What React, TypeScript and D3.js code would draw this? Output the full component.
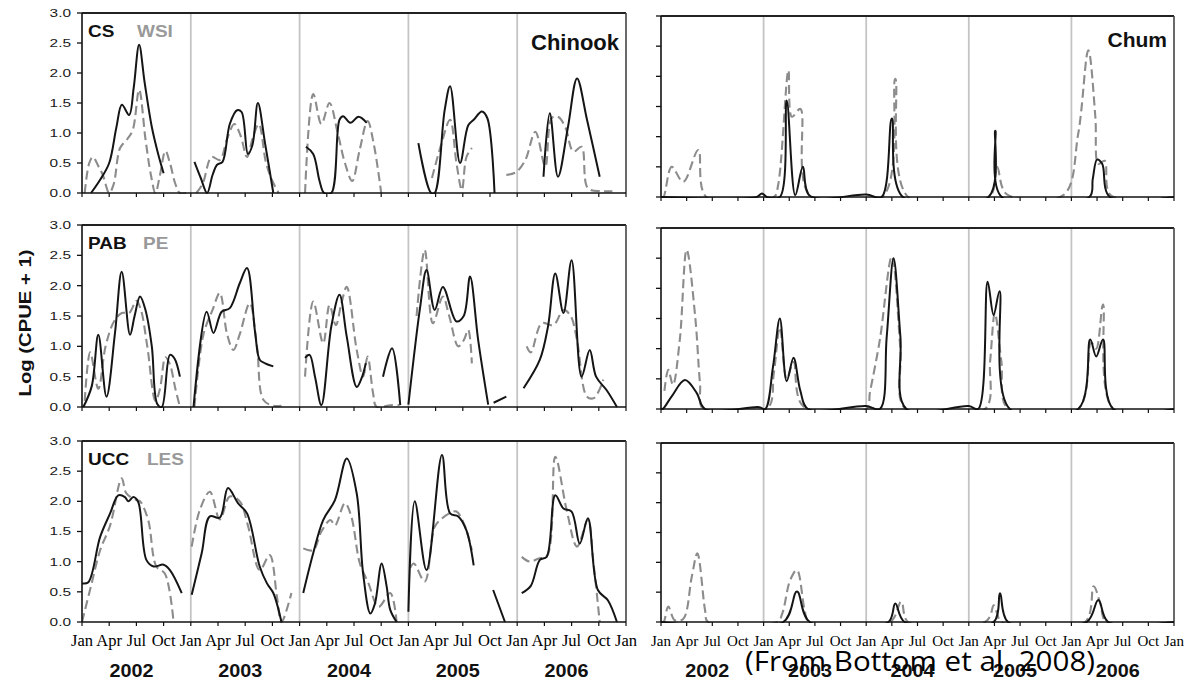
import React from "react";
import * as d3 from "d3";

// [month since Jan 2002, log(CPUE+1)], null = gap in the record
type Pt = [number, number] | null;

const years = [2002, 2003, 2004, 2005, 2006];
const monthNames = ["Jan", "Apr", "Jul", "Oct"];
const yTicks = [0, 0.5, 1, 1.5, 2, 2.5, 3];

// Chinook
const csChinook: Pt[] = [
  [1, 0], [2, 0.22], [3, 0.5], [3.8, 1.1], [4.4, 1.47], [5.2, 1.3], [5.7, 1.75], [6.3, 2.47], [6.9, 1.85], [7.7, 1.1], [8.4, 0.65], [9, 0.33], null,
  [12.4, 0.52], [13.1, 0.25], [13.8, 0], [14.4, 0.3], [14.9, 0.47], [15.5, 0.52], [16.3, 1.15], [17.1, 1.38], [17.6, 1.35], [18.3, 0.65], [18.8, 0.8], [19.4, 1.5], [20.2, 0.82], [21.1, 0], null,
  [24.7, 0.77], [25.5, 0.65], [26.2, 0.2], [26.7, 0], [27.5, 0], [28.4, 1.22], [28.8, 1.28], [29.6, 1.17], [30.5, 1.27], [31.4, 1.17], null,
  [37.1, 0.83], [38.5, 0], [38.9, 0], [40, 1.38], [40.6, 1.78], [41.7, 0.5], [42.6, 1.13], [43.2, 1.22], [44.1, 1.36], [44.7, 1.25], [45.5, 0], null,
  [50.9, 0.27], [51.6, 1.33], [52.5, 0.27], [53.6, 1.1], [54.6, 1.91], [55.7, 1.22], [57.1, 0.27],
];
const wsiChinook: Pt[] = [
  [0.3, 0], [0.8, 0.5], [1.2, 0.6], [1.8, 0.45], [2.3, 0.3], [3, 0], [3.5, 0.15], [4.2, 0.75], [5, 0.9], [5.6, 1.05], [6.3, 1.72], [7, 0.9], [7.6, 0.3], [8.1, 0], [8.6, 0.3], [9.2, 0.7], [9.7, 0.5], [10.3, 0.15], [10.8, 0], [11.5, 0], null,
  [12.6, 0], [13.3, 0.15], [14.3, 0.6], [15.2, 0.55], [16, 0.9], [16.8, 1.15], [17.5, 0.95], [18.2, 0.6], [18.8, 0.9], [19.5, 1.15], [20.3, 0.5], [21, 0.2], [21.7, 0], null,
  [24.6, 0], [25.5, 1.65], [26.4, 1.15], [27.3, 1.5], [28.2, 1.0], [29, 0.5], [29.8, 0.2], [30.6, 0.7], [31.5, 1.2], [32.2, 0.8], [33, 0], null,
  [38.6, 0.25], [39.6, 0.8], [40.6, 1.22], [41.3, 0.5], [41.9, 0.05], [42.4, 0.6], [43, 0.75], null,
  [46.8, 0.3], [47.9, 0.35], [48.9, 0.55], [50, 1.02], [51.1, 0.44], [51.8, 1.25], [52.5, 1.27], [53.3, 1.1], [54.2, 0.69], [55.1, 0.77], [55.8, 0.08], [57.4, 0.03], [58.5, 0.03],
];
const pabChinook: Pt[] = [
  [0.15, 0], [1.07, 0.34], [1.8, 1.19], [2.7, 0.17], [3.64, 1.22], [4.38, 2.23], [5.3, 1.19], [5.8, 1.5], [6.4, 1.82], [7, 1.6], [7.7, 1.0], [8.3, 0.05], [8.8, 0], [9.7, 0.86], [10.2, 0.8], [10.8, 0.5], null,
  [12.3, 0], [13.75, 1.57], [14.5, 1.22], [15.4, 1.57], [16.3, 1.63], [17.4, 2.04], [18.2, 2.29], [19.1, 1.22], [19.6, 0.78], [20.2, 0.72], [21.1, 0.67], null,
  [24.6, 0.81], [25.1, 0.86], [25.7, 0.5], [26.4, 0.03], [27.5, 1.33], [28.4, 1.85], [29.2, 1.16], [30.3, 0.33], [30.9, 0.5], [31.3, 0.72], null,
  [33.2, 0.5], [34.2, 0.97], [35.1, 0.03], null,
  [36, 0.04], [37.3, 1.65], [38, 2.26], [38.9, 1.6], [39.8, 1.98], [41.3, 1.41], [42.1, 1.5], [42.8, 2.15], [43.7, 1.1], [44.8, 0.04], null,
  [45.4, 0.07], [46.8, 0.17], null,
  [48.7, 0.31], [50.5, 0.78], [51.4, 1.33], [52.2, 2.2], [53.1, 1.55], [54, 2.42], [55.1, 0.5], [56, 0.94], [56.7, 0.5], [57.85, 0.28], [59, 0],
];
const peChinook: Pt[] = [
  [0.3, 0.1], [0.9, 0.9], [1.8, 0.3], [2.6, 1.0], [3.5, 1.4], [4.4, 1.55], [5.2, 1.55], [6, 1.75], [6.5, 1.6], [7.2, 1.0], [8.1, 0.1], [8.6, 0.3], [9.2, 0.82], [9.7, 0.7], [10.3, 0.3], [10.8, 0], null,
  [12.4, 0], [13.4, 1.2], [14.4, 1.6], [15.2, 1.88], [16, 1.2], [16.7, 0.94], [17.4, 1.2], [18.5, 1.71], [19.3, 1.0], [20, 0.12], [21.1, 0.02], [22, 0.02], null,
  [24.6, 0.5], [25.5, 1.74], [26.6, 1.05], [27.3, 1.68], [28, 1.35], [28.6, 1.7], [29.2, 1.98], [30.3, 0.94], [31, 0.5], [31.5, 0.83], [32.1, 0.23], [32.5, 0], [34, 0.03], [35, 0.03], null,
  [36.9, 1.5], [37.8, 2.59], [38.7, 1.38], [39.8, 1.82], [40.5, 1.5], [41.5, 1.0], [42.1, 1.1], [42.6, 1.27], [43, 0.72], null,
  [49.05, 1.0], [49.5, 0.9], [50.7, 1.38], [52, 1.35], [53.1, 1.6], [53.9, 1.5], [54.6, 1.1], [55.7, 0.17], [56.5, 0.15], [57.5, 0.45],
];
const uccChinook: Pt[] = [
  [0, 0.64], [0.7, 0.66], [2, 1.41], [3.1, 1.8], [4, 2.1], [4.74, 2.07], [5.1, 2.0], [5.66, 2.07], [6.2, 1.99], [7.1, 1.03], [7.9, 0.92], [9, 0.95], [9.7, 0.86], [11, 0.48], null,
  [12.1, 0.45], [13.2, 1.14], [14.1, 1.75], [15.2, 1.73], [16.1, 2.22], [17.2, 1.97], [18.2, 1.8], [19.6, 0.92], [20.4, 0.64], [21.1, 0.48], [22, 0], null,
  [24.4, 0.48], [25.5, 1.14], [26.6, 1.69], [27.9, 2.02], [29.2, 2.71], [30.3, 2.13], [31, 0.81], [31.8, 0.14], [32.3, 0.3], [33.05, 0.97], [33.6, 0.59], [34, 0.2], [34.7, 0], null,
  [36, 0.17], [36.7, 2.0], [38, 0.86], [39.7, 2.77], [40.6, 1.8], [41.5, 1.75], [42.4, 1.52], [43.2, 0.94], null,
  [45.35, 0.53], [46.65, 0], null,
  [48.5, 0.48], [49.5, 0.6], [50.5, 1.03], [51.25, 1.08], [52.2, 2.1], [53.1, 1.88], [54, 1.83], [54.9, 1.3], [55.8, 1.72], [56.9, 0.53], [58, 0.36], [59, 0],
];
const lesChinook: Pt[] = [
  [0, 0], [1, 0.6], [2, 1.19], [3.1, 1.6], [4.38, 2.38], [4.9, 2.13], [6, 2.02], [6.4, 2.0], [7.3, 1.69], [8.2, 0.92], [9.15, 0.8], [10.1, 0], null,
  [12.1, 1.25], [13, 1.86], [14.1, 2.16], [15.2, 1.7], [16.3, 2.08], [17.4, 2.0], [18.3, 1.6], [19.6, 0.86], [20.7, 1.11], [21.5, 0.42], [22, 0], [23.1, 0.48], null,
  [24.4, 1.22], [25.5, 1.19], [26.4, 1.5], [27.4, 1.69], [27.9, 1.6], [29, 1.97], [29.7, 1.75], [30.65, 0.97], [31.6, 0.64], [32.7, 0.25], [34, 0.48], [34.7, 0], null,
  [36.2, 0.9], [36.6, 0.97], [37.8, 0.67], [38.9, 1.58], [39.6, 1.7], [40.5, 1.8], [41.3, 1.83], [42.2, 1.6], [43, 1.19], null,
  [48.5, 1.08], [49.4, 1.0], [50.3, 1.05], [51.3, 1.1], [52.2, 2.74], [53.45, 1.86], [54.6, 1.25], [55.8, 1.69], [56.4, 1.0], [57.1, 0],
];

// Chum
const csChum: Pt[] = [
  [0, 0], [11.2, 0], [11.8, 0.06], [12.4, 0], [13.9, 0], [14.7, 1.6], [15.7, 0.03], [16.6, 0.5], [17.4, 0.02], [24, 0.04], [25.8, 0], [27, 1.3], [28.3, 0],
  [38.3, 0], [39.1, 1.1], [39.85, 0], [50.1, 0], [50.5, 0.3], [51, 0.62], [51.6, 0.55], [52.5, 0], [60, 0],
];
const wsiChum: Pt[] = [
  [0, 0], [0.27, 0], [1.25, 0.5], [2.6, 0.25], [4.36, 0.78], [5.3, 0], [13.2, 0], [13.7, 0.2], [14.9, 2.1], [15.3, 1.33], [16.3, 1.46], [17.4, 0.03],
  [25.9, 0], [27.4, 1.96], [28.9, 0], [38.4, 0], [39.3, 0.5], [40.4, 0.05], [47.05, 0.03], [48.8, 1.05], [49.98, 2.43], [50.8, 1.33], [51.15, 0.55], [51.9, 0.6], [52.6, 0.03], [60, 0],
];
const pabChum: Pt[] = [
  [0, 0], [0.2, 0], [1.25, 0.21], [2.8, 0.48], [4.2, 0.26], [5.15, 0], [11.5, 0.03], [12.2, 0], [13.1, 0.7], [13.9, 1.5], [14.7, 0.46], [15.5, 0.85], [16.3, 0.3], [17.2, 0],
  [24, 0.05], [25.6, 0], [26.4, 1.2], [27.2, 2.5], [28, 1.2], [28.7, 0], [36, 0.05], [37.1, 0], [38.2, 2.11], [38.9, 1.56], [39.6, 1.95], [40.8, 0],
  [48.8, 0], [50.2, 1.15], [50.9, 0.87], [51.7, 1.15], [52.9, 0], [60, 0],
];
const peChum: Pt[] = [
  [0.4, 0.3], [0.85, 0.65], [1.4, 0.4], [2.2, 1.15], [3.0, 2.64], [4.0, 1.53], [4.56, 0.43], [4.95, 0], [12.4, 0], [13.2, 0.6], [13.9, 1.35], [14.7, 0.5], [15.5, 0.78], [16.6, 0.05],
  [24, 0], [24.45, 0.29], [25.6, 1.15], [27, 2.53], [28, 1.0], [28.6, 0], [37.9, 0], [38.5, 0.8], [39.05, 1.59], [39.8, 0.8], [40.6, 0],
  [48.8, 0], [50.3, 1.1], [50.9, 1.0], [51.7, 1.73], [52.9, 0], [60, 0],
];
const uccChum: Pt[] = [
  [0, 0], [14.3, 0], [15.9, 0.51], [17.4, 0], [26.6, 0], [27.4, 0.31], [28.5, 0], [38.9, 0], [39.65, 0.48], [40.6, 0], [49.8, 0], [51.15, 0.37], [52.3, 0], [60, 0],
];
const lesChum: Pt[] = [
  [0, 0], [0.3, 0], [0.85, 0.26], [1.6, 0.03], [2.6, 0.05], [3.6, 0.76], [4.25, 1.15], [5.15, 0.2], [5.5, 0], [13.6, 0], [14.2, 0.15], [15.1, 0.7], [15.9, 0.87], [16.8, 0.2], [17.3, 0],
  [26.8, 0], [28.1, 0.34], [28.9, 0], [37.9, 0], [38.5, 0.1], [38.9, 0.28], [39.3, 0.15], [39.8, 0], [49.6, 0], [50.6, 0.6], [51.4, 0.3], [52.1, 0], [60, 0],
];

const siteA = ["CS", "PAB", "UCC"];
const siteB = ["WSI", "PE", "LES"];
const solidSeries = [[csChinook, csChum], [pabChinook, pabChum], [uccChinook, uccChum]];
const dashedSeries = [[wsiChinook, wsiChum], [peChinook, peChum], [lesChinook, lesChum]];

const colX = [[82, 626], [661, 1174]];
const rowY = [
  [[13, 193], [16, 197]],
  [[225, 407], [228, 409]],
  [[441, 622], [443, 622]],
];

const SANS = "'Liberation Sans', Arial, sans-serif";
const SERIF = "'Liberation Serif', 'Times New Roman', serif";

function Panel({ row, col }: { row: number; col: number }) {
  const [x0, x1] = colX[col];
  const [y0, y1] = rowY[row][col];
  const x = d3.scaleLinear().domain([0, 60]).range([x0, x1]);
  const y = d3.scaleLinear().domain([0, 3]).range([y1, y0]);
  const line = d3
    .line<Pt>()
    .defined((d) => d !== null)
    .x((d) => x(d![0]))
    .y((d) => y(d![1]))
    .curve(d3.curveCatmullRom.alpha(0.5));
  const clipId = `clip-${row}-${col}`;
  const xTicks = d3.range(0, 61, 3);
  const last = row === 2;

  return (
    <g>
      <defs>
        <clipPath id={clipId}>
          <rect x={x0} y={y0 - 6} width={x1 - x0} height={y1 - y0 + 7} />
        </clipPath>
      </defs>
      {years.slice(1).map((yr, i) => (
        <line key={yr} x1={x(12 * (i + 1))} x2={x(12 * (i + 1))} y1={y0} y2={y1} stroke="#c4c4c4" strokeWidth={1.8} />
      ))}
      <g clipPath={`url(#${clipId})`} fill="none" strokeLinejoin="round" strokeLinecap="butt">
        <path d={line(dashedSeries[row][col]) || ""} stroke="#8c8c8c" strokeWidth={2.1} strokeDasharray="9,4.5" />
        <path d={line(solidSeries[row][col]) || ""} stroke="#151515" strokeWidth={2} />
      </g>
      {/* frame */}
      <line x1={x0} x2={x1} y1={y0} y2={y0} stroke="#222" strokeWidth={2} />
      <line x1={x1} x2={x1} y1={y0} y2={y1} stroke="#444" strokeWidth={1.6} />
      <line x1={x0} x2={x0} y1={y0} y2={y1} stroke="#111" strokeWidth={1.6} />
      <line x1={x0} x2={x1} y1={y1} y2={y1} stroke="#111" strokeWidth={1.6} />
      {yTicks.map((t) => (
        <line key={t} x1={x0 - 5} x2={x0} y1={y(t)} y2={y(t)} stroke="#111" strokeWidth={1.3} />
      ))}
      {xTicks.map((t) => (
        <line key={t} x1={x(t)} x2={x(t)} y1={y1} y2={y1 + 4} stroke="#111" strokeWidth={1.2} />
      ))}
      {col === 0 &&
        yTicks.map((t) => (
          <text
            key={t}
            transform={`translate(71,${y(t) + 3.9}) scale(1.4,1)`}
            textAnchor="end"
            fontFamily={SANS}
            fontSize={11}
            fill="#1a1a1a"
          >
            {t.toFixed(1)}
          </text>
        ))}
      {last &&
        xTicks.map((t) => (
          <text
            key={t}
            x={x(t)}
            y={646}
            textAnchor="middle"
            fontFamily={SERIF}
            fontSize={col === 0 ? 16.5 : 15}
            fill="#000"
          >
            {monthNames[(t / 3) % 4]}
          </text>
        ))}
      {last &&
        years.map((yr, i) => (
          <text
            key={yr}
            transform={`translate(${x(12 * i + 6) - 5},677) scale(1.1,1)`}
            textAnchor="middle"
            fontFamily={SANS}
            fontWeight="bold"
            fontSize={18}
            fill="#111"
          >
            {yr}
          </text>
        ))}
      {col === 0 && (
        <g fontFamily={SANS} fontWeight="bold" fontSize={16.5}>
          <text transform={`translate(88,${y0 + 23.5}) scale(1.15,1)`} fill="#111">
            {siteA[row]}
          </text>
          <text transform={`translate(${[137, 143, 147][row]},${y0 + 23.5}) scale(1.15,1)`} fill="#999">
            {siteB[row]}
          </text>
        </g>
      )}
    </g>
  );
}

export default function App() {
  const rows = [0, 1, 2];
  return (
    <svg
      width={1184}
      height={681}
      style={{ position: "absolute", left: 0, top: 0, background: "#fff" }}
    >
      {rows.map((r) => (
        <g key={r}>
          <Panel row={r} col={0} />
          <Panel row={r} col={1} />
        </g>
      ))}
      <text x={619} y={49.5} textAnchor="end" fontFamily={SANS} fontWeight="bold" fontSize={22} fill="#111">
        Chinook
      </text>
      <text x={1167} y={47} textAnchor="end" fontFamily={SANS} fontWeight="bold" fontSize={21} fill="#111">
        Chum
      </text>
      <text
        transform="translate(31,323) rotate(-90)"
        textAnchor="middle"
        fontFamily={SANS}
        fontWeight="bold"
        fontSize={17}
        textLength={147}
        lengthAdjust="spacingAndGlyphs"
        fill="#111"
      >
        Log (CPUE + 1)
      </text>
      {/* citation sits over the right-hand year labels, as in the source slide */}
      <text x={745} y={671} fontFamily="'Open Sans', sans-serif" fontSize={28} textLength={350} lengthAdjust="spacingAndGlyphs" fill="#000">
        (From Bottom et al. 2008)
      </text>
    </svg>
  );
}
